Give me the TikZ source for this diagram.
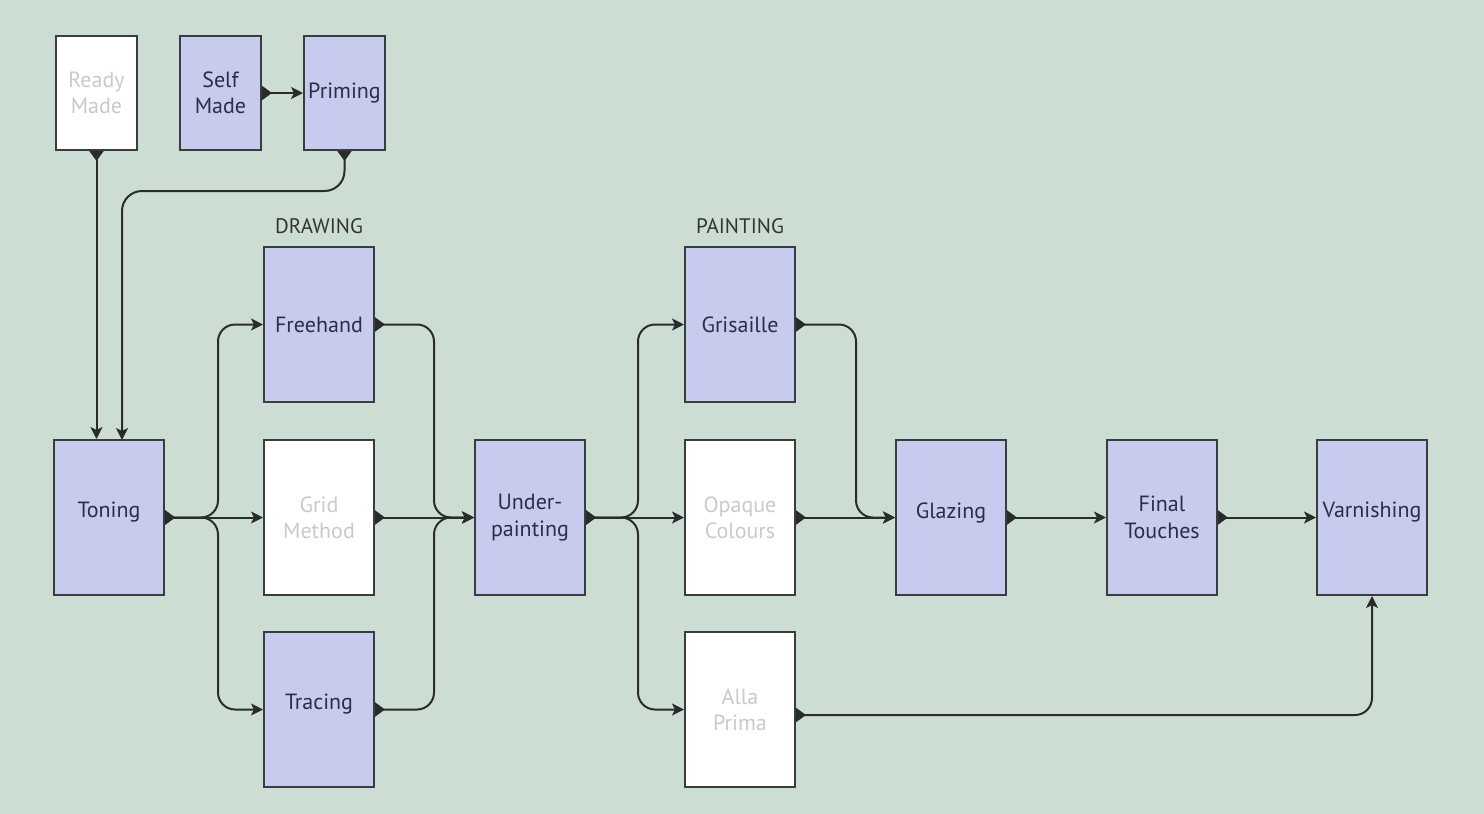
\documentclass[tikz,border=0pt]{standalone}
\usepackage{fontspec}
\setmainfont{PT Sans}
\usetikzlibrary{arrows.meta}
\definecolor{bg}{HTML}{CCDED4}
\definecolor{lav}{HTML}{C7CBEE}
\definecolor{boxline}{HTML}{3A3D40}
\definecolor{navy}{HTML}{2A2E48}
\definecolor{offtext}{HTML}{CACACA}
\definecolor{lineclr}{HTML}{2A2C2C}
\newcommand{\lift}[1]{\raisebox{2.5pt}[\height][\depth]{#1}}
\tikzset{
  box/.style={draw=boxline, line width=1pt, fill=lav, minimum width=55pt, minimum height=77.5pt,
    align=center, text=navy, font=\fontsize{11}{13.2}\selectfont, inner sep=0pt},
  smallbox/.style={box, minimum width=40.5pt, minimum height=57pt},
  off/.style={fill=white, text=offtext},
  conn/.style={line width=1pt, draw=lineclr, rounded corners=8.5pt,
    {Triangle[reversed,length=5pt,width=7pt]}-{Stealth[length=6pt,width=6pt,inset=1.5pt]}},
  head/.style={text=black!80, font=\fontsize{10.5}{13}\selectfont}
}
\begin{document}
\begin{tikzpicture}[x=0.5pt,y=-0.5pt]
\fill[bg] (0,0) rectangle (1484,814);
\useasboundingbox (0,0) rectangle (1484,814);

\node[smallbox,off] (rm) at (96.5,93) {Ready\\Made};
\node[smallbox] (sm) at (220.5,93) {Self\\Made};
\node[smallbox] (pr) at (344.5,93) {Priming};

\node[head] (dl) at (319,226) {DRAWING};
\node[head] (pl) at (740,226) {PAINTING};

\node[box] (to) at (109,517.5) {\lift{Toning}};
\node[box] (fh) at (319,324.5) {Freehand};
\node[box,off] (gm) at (319,517.5) {Grid\\Method};
\node[box] (tr) at (319,709.5) {\lift{Tracing}};
\node[box] (up) at (530,517.5) {Under-\\painting};
\node[box] (gr) at (740,324.5) {Grisaille};
\node[box,off] (oc) at (740,517.5) {Opaque\\Colours};
\node[box,off] (ap) at (740,709.5) {Alla\\Prima};
\node[box] (gl) at (951,517.5) {\lift{Glazing}};
\node[box] (ft) at (1162,517.5) {Final\\Touches};
\node[box] (va) at (1372,517.5) {\lift{Varnishing}};

\coordinate (tin) at (122,440);
\coordinate (j1) at (218,517.5);
\coordinate (j2) at (434,517.5);
\coordinate (j3) at (638,517.5);
\coordinate (j4) at (856,517.5);

\draw[conn] (sm.east) -- (pr.west);
\draw[conn] (rm.south) -- (to.north -| rm.south);
\draw[conn, rounded corners=10pt] (pr.south) -- ++(0,40) -| (tin);

\draw[conn] (to.east) -- (j1) |- (fh.west);
\draw[conn] (to.east) -- (gm.west);
\draw[conn] (to.east) -- (j1) |- (tr.west);

\draw[conn] (fh.east) -| (j2) -- (up.west);
\draw[conn] (gm.east) -- (up.west);
\draw[conn] (tr.east) -| (j2) -- (up.west);

\draw[conn] (up.east) -- (j3) |- (gr.west);
\draw[conn] (up.east) -- (oc.west);
\draw[conn] (up.east) -- (j3) |- (ap.west);

\draw[conn] (gr.east) -| (j4) -- (gl.west);
\draw[conn] (oc.east) -- (gl.west);
\draw[conn] (gl.east) -- (ft.west);
\draw[conn] (ft.east) -- (va.west);
\draw[conn] ([yshift=-2.75pt]ap.east) -| (va.south);
\end{tikzpicture}
\end{document}
